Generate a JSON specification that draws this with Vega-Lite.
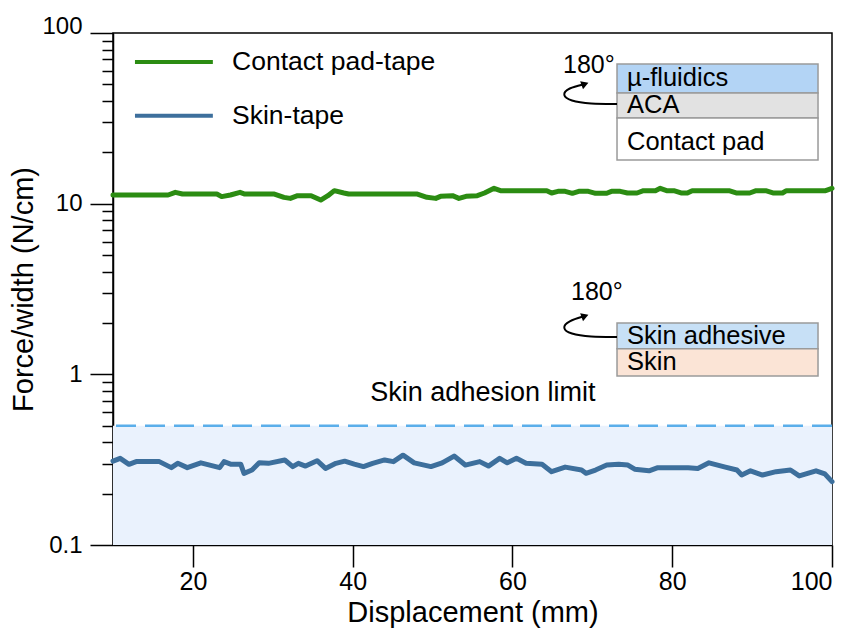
{
  "$schema": "https://vega.github.io/schema/vega-lite/v6.json",
  "width": 719,
  "height": 512,
  "autosize": {"type": "none"},
  "padding": {"left": 113, "top": 33, "right": 20, "bottom": 88},
  "background": "white",
  "config": {
    "view": {"stroke": "black", "strokeWidth": 1.5},
    "font": "Liberation Sans",
    "axis": {"domainColor": "black", "tickColor": "black", "labelColor": "black", "titleColor": "black", "grid": false, "labelFont": "Liberation Sans", "titleFont": "Liberation Sans", "titleFontWeight": "normal", "domainWidth": 1.5, "tickWidth": 1.5}
  },
  "datasets": {
    "curves": [
      {"series":"Contact pad-tape","x":10,"y":11.24},{"series":"Contact pad-tape","x":16.9,"y":11.24},{"series":"Contact pad-tape","x":17.8,"y":11.65},{"series":"Contact pad-tape","x":18.7,"y":11.39},{"series":"Contact pad-tape","x":23.0,"y":11.39},{"series":"Contact pad-tape","x":23.6,"y":11.0},{"series":"Contact pad-tape","x":24.7,"y":11.24},{"series":"Contact pad-tape","x":25.9,"y":11.65},{"series":"Contact pad-tape","x":26.5,"y":11.39},{"series":"Contact pad-tape","x":30.2,"y":11.39},{"series":"Contact pad-tape","x":31.4,"y":10.89},{"series":"Contact pad-tape","x":32.2,"y":10.74},{"series":"Contact pad-tape","x":33.1,"y":11.14},{"series":"Contact pad-tape","x":34.8,"y":11.14},{"series":"Contact pad-tape","x":36.0,"y":10.5},{"series":"Contact pad-tape","x":36.9,"y":11.14},{"series":"Contact pad-tape","x":37.7,"y":11.92},{"series":"Contact pad-tape","x":38.9,"y":11.55},{"series":"Contact pad-tape","x":39.5,"y":11.39},{"series":"Contact pad-tape","x":48.1,"y":11.39},{"series":"Contact pad-tape","x":49.3,"y":10.89},{"series":"Contact pad-tape","x":50.4,"y":10.74},{"series":"Contact pad-tape","x":51.0,"y":11.04},{"series":"Contact pad-tape","x":52.5,"y":11.14},{"series":"Contact pad-tape","x":53.3,"y":10.74},{"series":"Contact pad-tape","x":54.2,"y":11.04},{"series":"Contact pad-tape","x":55.6,"y":11.14},{"series":"Contact pad-tape","x":56.5,"y":11.55},{"series":"Contact pad-tape","x":57.7,"y":12.3},{"series":"Contact pad-tape","x":58.5,"y":11.92},{"series":"Contact pad-tape","x":64.3,"y":11.92},{"series":"Contact pad-tape","x":64.9,"y":11.55},{"series":"Contact pad-tape","x":65.7,"y":11.81},{"series":"Contact pad-tape","x":66.6,"y":11.81},{"series":"Contact pad-tape","x":67.5,"y":11.5},{"series":"Contact pad-tape","x":68.3,"y":11.81},{"series":"Contact pad-tape","x":69.5,"y":11.81},{"series":"Contact pad-tape","x":70.4,"y":11.5},{"series":"Contact pad-tape","x":71.8,"y":11.5},{"series":"Contact pad-tape","x":72.4,"y":11.81},{"series":"Contact pad-tape","x":73.5,"y":11.81},{"series":"Contact pad-tape","x":74.4,"y":11.55},{"series":"Contact pad-tape","x":75.6,"y":11.55},{"series":"Contact pad-tape","x":76.4,"y":11.92},{"series":"Contact pad-tape","x":77.9,"y":11.92},{"series":"Contact pad-tape","x":78.5,"y":12.3},{"series":"Contact pad-tape","x":79.3,"y":11.92},{"series":"Contact pad-tape","x":80.2,"y":11.92},{"series":"Contact pad-tape","x":81.1,"y":11.55},{"series":"Contact pad-tape","x":81.9,"y":11.55},{"series":"Contact pad-tape","x":82.5,"y":11.92},{"series":"Contact pad-tape","x":87.1,"y":11.92},{"series":"Contact pad-tape","x":88.0,"y":11.55},{"series":"Contact pad-tape","x":89.7,"y":11.55},{"series":"Contact pad-tape","x":90.5,"y":11.92},{"series":"Contact pad-tape","x":91.7,"y":11.92},{"series":"Contact pad-tape","x":92.6,"y":11.55},{"series":"Contact pad-tape","x":93.8,"y":11.55},{"series":"Contact pad-tape","x":94.3,"y":11.92},{"series":"Contact pad-tape","x":99.2,"y":11.92},{"series":"Contact pad-tape","x":100,"y":12.3},
      {"series":"Skin-tape","x":10,"y":0.31},{"series":"Skin-tape","x":10.9,"y":0.322},{"series":"Skin-tape","x":12.0,"y":0.297},{"series":"Skin-tape","x":12.9,"y":0.308},{"series":"Skin-tape","x":15.8,"y":0.308},{"series":"Skin-tape","x":17.3,"y":0.284},{"series":"Skin-tape","x":18.1,"y":0.301},{"series":"Skin-tape","x":19.3,"y":0.284},{"series":"Skin-tape","x":21.0,"y":0.303},{"series":"Skin-tape","x":23.35,"y":0.284},{"series":"Skin-tape","x":23.9,"y":0.308},{"series":"Skin-tape","x":24.8,"y":0.297},{"series":"Skin-tape","x":26.0,"y":0.297},{"series":"Skin-tape","x":26.4,"y":0.263},{"series":"Skin-tape","x":27.4,"y":0.275},{"series":"Skin-tape","x":28.3,"y":0.303},{"series":"Skin-tape","x":29.45,"y":0.301},{"series":"Skin-tape","x":31.5,"y":0.315},{"series":"Skin-tape","x":32.5,"y":0.288},{"series":"Skin-tape","x":33.2,"y":0.301},{"series":"Skin-tape","x":34.1,"y":0.29},{"series":"Skin-tape","x":35.55,"y":0.312},{"series":"Skin-tape","x":36.6,"y":0.281},{"series":"Skin-tape","x":37.9,"y":0.301},{"series":"Skin-tape","x":39.0,"y":0.31},{"series":"Skin-tape","x":40.2,"y":0.298},{"series":"Skin-tape","x":41.35,"y":0.288},{"series":"Skin-tape","x":42.5,"y":0.301},{"series":"Skin-tape","x":44.0,"y":0.315},{"series":"Skin-tape","x":45.1,"y":0.308},{"series":"Skin-tape","x":46.3,"y":0.336},{"series":"Skin-tape","x":47.7,"y":0.303},{"series":"Skin-tape","x":49.8,"y":0.288},{"series":"Skin-tape","x":51.2,"y":0.303},{"series":"Skin-tape","x":52.7,"y":0.332},{"series":"Skin-tape","x":54.1,"y":0.294},{"series":"Skin-tape","x":55.9,"y":0.308},{"series":"Skin-tape","x":57.0,"y":0.29},{"series":"Skin-tape","x":58.4,"y":0.322},{"series":"Skin-tape","x":59.35,"y":0.303},{"series":"Skin-tape","x":60.5,"y":0.322},{"series":"Skin-tape","x":61.7,"y":0.301},{"series":"Skin-tape","x":63.7,"y":0.297},{"series":"Skin-tape","x":64.9,"y":0.269},{"series":"Skin-tape","x":66.6,"y":0.286},{"series":"Skin-tape","x":68.65,"y":0.275},{"series":"Skin-tape","x":69.2,"y":0.263},{"series":"Skin-tape","x":70.4,"y":0.275},{"series":"Skin-tape","x":71.8,"y":0.294},{"series":"Skin-tape","x":73.3,"y":0.297},{"series":"Skin-tape","x":74.45,"y":0.294},{"series":"Skin-tape","x":75.3,"y":0.278},{"series":"Skin-tape","x":77.1,"y":0.272},{"series":"Skin-tape","x":78.2,"y":0.284},{"series":"Skin-tape","x":82.0,"y":0.284},{"series":"Skin-tape","x":83.2,"y":0.281},{"series":"Skin-tape","x":84.6,"y":0.303},{"series":"Skin-tape","x":86.65,"y":0.286},{"series":"Skin-tape","x":88.1,"y":0.275},{"series":"Skin-tape","x":88.7,"y":0.257},{"series":"Skin-tape","x":89.8,"y":0.272},{"series":"Skin-tape","x":91.3,"y":0.257},{"series":"Skin-tape","x":93.0,"y":0.269},{"series":"Skin-tape","x":94.8,"y":0.275},{"series":"Skin-tape","x":95.9,"y":0.254},{"series":"Skin-tape","x":98.0,"y":0.272},{"series":"Skin-tape","x":99.1,"y":0.261},{"series":"Skin-tape","x":100,"y":0.235}
    ],
    "boxes": [
      {"layer":"µ-fluidics","x":73.09,"x2":98.25,"y":44.5,"y2":65.8},
      {"layer":"ACA","x":73.09,"x2":98.25,"y":31.8,"y2":44.5},
      {"layer":"Contact pad","x":73.09,"x2":98.25,"y":18.0,"y2":31.8},
      {"layer":"Skin adhesive","x":73.09,"x2":98.25,"y":1.41,"y2":2.0},
      {"layer":"Skin","x":73.09,"x2":98.25,"y":0.978,"y2":1.41}
    ],
    "labels": [
      {"text":"µ-fluidics","kind":"layer","x":74.34,"y":54.5},
      {"text":"ACA","kind":"layer","x":74.34,"y":37.8},
      {"text":"Contact pad","kind":"layer","x":74.34,"y":23.0},
      {"text":"180°","kind":"angle","x":66.33,"y":64.9},
      {"text":"Skin adhesive","kind":"layer","x":74.34,"y":1.68},
      {"text":"Skin","kind":"layer","x":74.34,"y":1.18},
      {"text":"180°","kind":"angle","x":67.33,"y":3.04}
    ],
    "arrows": [
      {"arrow":"upper","ord":1,"x":73.09,"y":38.4},{"arrow":"upper","ord":2,"x":69.71,"y":38.4},{"arrow":"upper","ord":3,"x":67.2,"y":39.96},{"arrow":"upper","ord":4,"x":66.2,"y":43.3},{"arrow":"upper","ord":5,"x":66.95,"y":47.6},{"arrow":"upper","ord":6,"x":69.08,"y":50.25},
      {"arrow":"lower","ord":1,"x":73.09,"y":1.656},{"arrow":"lower","ord":2,"x":69.71,"y":1.656},{"arrow":"lower","ord":3,"x":67.2,"y":1.72},{"arrow":"lower","ord":4,"x":66.2,"y":1.87},{"arrow":"lower","ord":5,"x":66.95,"y":2.055},{"arrow":"lower","ord":6,"x":69.08,"y":2.198}
    ],
    "legend": [
      {"series":"Contact pad-tape","x":12.75,"x2":22.5,"tx":24.9,"y":67.6},
      {"series":"Skin-tape","x":12.75,"x2":22.5,"tx":24.9,"y":32.7}
    ]
  },
  "layer": [
    {
      "data": {"values": [{"lo": 0.1, "hi": 0.5, "x0": 10, "x1": 100}]},
      "mark": {"type": "rect", "fill": "#eaf2fd"},
      "encoding": {
        "x": {"field": "x0", "type": "quantitative", "scale": {"domain": [10, 100], "nice": false, "zero": false},
          "axis": {"values": [20, 40, 60, 80, 100], "tickSize": 22, "labelFontSize": 25, "labelPadding": 2, "title": "Displacement (mm)", "titleFontSize": 29, "titlePadding": 4}},
        "x2": {"field": "x1"},
        "y": {"field": "lo", "type": "quantitative", "scale": {"type": "log", "domain": [0.1, 100], "nice": false},
          "axis": {"values": [0.1,0.2,0.3,0.4,0.5,0.6,0.7,0.8,0.9,1,2,3,4,5,6,7,8,9,10,20,30,40,50,60,70,80,90,100],
            "labelExpr": "datum.value==0.1 ? '0.1' : datum.value==1 ? '1' : datum.value==10 ? '10' : datum.value==100 ? '100' : ''",
            "tickSize": {"condition": {"test": "datum.value==0.1 || datum.value==1 || datum.value==10 || datum.value==100", "value": 23}, "value": 11},
            "labelBaseline": {"condition": {"test": "datum.value==100", "value": "alphabetic"}, "value": "middle"},
            "labelFontSize": 24, "labelPadding": 8, "title": "Force/width (N/cm)", "titleFontSize": 29, "titlePadding": 3}},
        "y2": {"field": "hi"}
      }
    },
    {
      "data": {"values": [{"lim": 0.5}]},
      "mark": {"type": "rule", "stroke": "#5aaeea", "strokeWidth": 2.5, "strokeDash": [20, 9]},
      "encoding": {"y": {"field": "lim", "type": "quantitative"}}
    },
    {
      "data": {"name": "curves"},
      "mark": {"type": "line", "strokeWidth": 5, "strokeJoin": "round", "strokeCap": "round"},
      "encoding": {
        "x": {"field": "x", "type": "quantitative"},
        "y": {"field": "y", "type": "quantitative"},
        "color": {"field": "series", "type": "nominal", "scale": {"domain": ["Contact pad-tape", "Skin-tape"], "range": ["#2b8c12", "#3d6f9c"]}, "legend": null}
      }
    },
    {
      "data": {"name": "legend"},
      "mark": {"type": "rule", "strokeWidth": 4},
      "encoding": {
        "x": {"field": "x", "type": "quantitative"},
        "x2": {"field": "x2"},
        "y": {"field": "y", "type": "quantitative"},
        "color": {"field": "series", "type": "nominal", "legend": null}
      }
    },
    {
      "data": {"name": "legend"},
      "mark": {"type": "text", "align": "left", "baseline": "middle", "fontSize": 26.5, "font": "Liberation Sans", "color": "black"},
      "encoding": {
        "x": {"field": "tx", "type": "quantitative"},
        "y": {"field": "y", "type": "quantitative"},
        "text": {"field": "series"}
      }
    },
    {
      "data": {"name": "boxes"},
      "mark": {"type": "rect", "stroke": "#9a9a9a", "strokeWidth": 1.5},
      "encoding": {
        "x": {"field": "x", "type": "quantitative"},
        "x2": {"field": "x2"},
        "y": {"field": "y", "type": "quantitative"},
        "y2": {"field": "y2"},
        "fill": {"field": "layer", "type": "nominal", "scale": {"domain": ["µ-fluidics", "ACA", "Contact pad", "Skin adhesive", "Skin"], "range": ["#b3d4f5", "#e2e2e2", "#ffffff", "#c7e0f6", "#fbe4d6"]}, "legend": null}
      }
    },
    {
      "data": {"name": "labels"},
      "mark": {"type": "text", "align": "left", "baseline": "middle", "font": "Liberation Sans", "color": "black"},
      "encoding": {
        "x": {"field": "x", "type": "quantitative"},
        "y": {"field": "y", "type": "quantitative"},
        "text": {"field": "text"},
        "size": {"field": "kind", "type": "nominal", "scale": {"domain": ["layer", "angle"], "range": [25.5, 25]}, "legend": null}
      }
    },
    {
      "data": {"values": [{"text": "Skin adhesion limit", "x": 56.3, "y": 0.778}]},
      "mark": {"type": "text", "align": "center", "baseline": "middle", "fontSize": 27, "font": "Liberation Sans", "color": "black"},
      "encoding": {
        "x": {"field": "x", "type": "quantitative"},
        "y": {"field": "y", "type": "quantitative"},
        "text": {"field": "text"}
      }
    },
    {
      "data": {"name": "arrows"},
      "mark": {"type": "line", "interpolate": "basis", "stroke": "black", "strokeWidth": 2},
      "encoding": {
        "x": {"field": "x", "type": "quantitative"},
        "y": {"field": "y", "type": "quantitative"},
        "detail": {"field": "arrow"},
        "order": {"field": "ord"}
      }
    },
    {
      "data": {"name": "arrows"},
      "transform": [{"filter": "datum.ord == 6"}],
      "mark": {"type": "point", "shape": "triangle-right", "filled": true, "color": "black", "size": 70, "angle": -20, "opacity": 1},
      "encoding": {
        "x": {"field": "x", "type": "quantitative"},
        "y": {"field": "y", "type": "quantitative"}
      }
    }
  ]
}
